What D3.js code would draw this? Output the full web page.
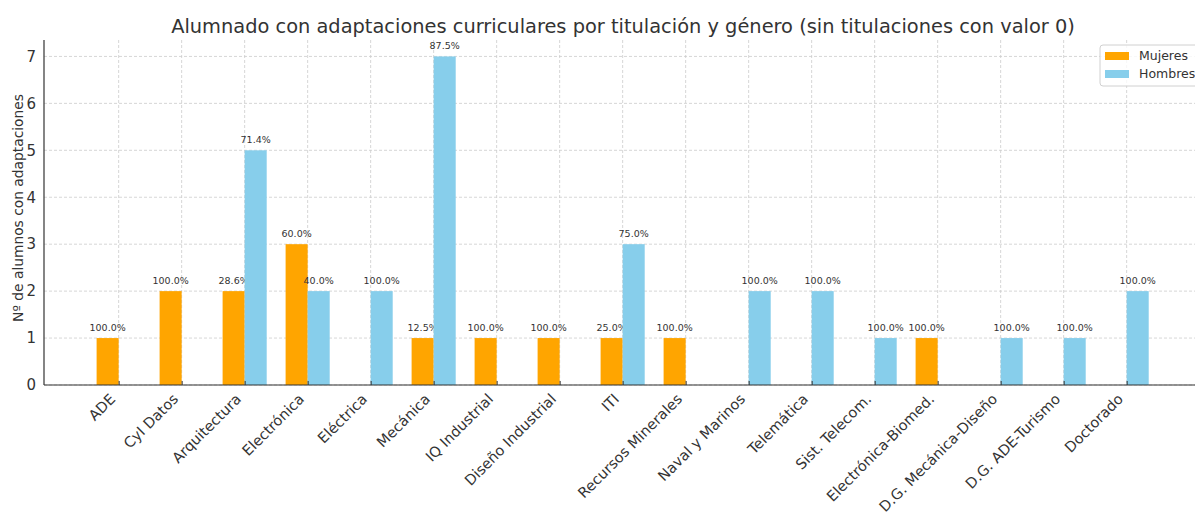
<!DOCTYPE html>
<html>
<head>
<meta charset="utf-8">
<script src="https://cdn.jsdelivr.net/npm/d3@7"></script>
<style>
  body { margin: 0; background: #fff; overflow: hidden; }
  text { font-family: "DejaVu Sans", sans-serif; fill: #333; }
</style>
</head>
<body>
<div id="chart"></div>
<script>
// data
var titulaciones = ["ADE", "CyI Datos", "Arquitectura", "Electrónica", "Eléctrica", "Mecánica",
  "IQ Industrial", "Diseño Industrial", "ITI", "Recursos Minerales", "Naval y Marinos",
  "Telemática", "Sist. Telecom.", "Electrónica-Biomed.", "D.G. Mecánica-Diseño",
  "D.G. ADE-Turismo", "Doctorado"];
var mujeres = [1, 2, 2, 3, 0, 1, 1, 1, 1, 1, 0, 0, 0, 1, 0, 0, 0];
var hombres = [0, 0, 5, 2, 2, 7, 0, 0, 3, 0, 2, 2, 1, 0, 1, 1, 2];
var yTicks = [0, 1, 2, 3, 4, 5, 6, 7];
var series = [
  {name: "Mujeres", values: mujeres, color: "#FFA500", offset: -0.35},
  {name: "Hombres", values: hombres, color: "#87CEEB", offset: 0}
];

var W = 1195, H = 513;
var barW = 0.35;
var plotLeft = 44, plotTop = 40, plotBottom = 385;

var svg = d3.select("#chart").append("svg")
  .attr("width", W).attr("height", H);

// matplotlib-like 5% margins around the bars
var xmin = -barW, xmax = titulaciones.length - 1 + barW;
var pad = (xmax - xmin) * 0.05;
var stepPx = 63;
var x = d3.scaleLinear()
  .domain([xmin - pad, xmax + pad])
  .range([plotLeft, plotLeft + (xmax - xmin + 2 * pad) * stepPx]);
var y = d3.scaleLinear()
  .domain([0, 7.35])
  .range([plotBottom, plotTop]);

// grid
var grid = svg.append("g");
grid.selectAll("line.h").data(yTicks).enter().append("line")
  .attr("x1", plotLeft).attr("x2", W)
  .attr("y1", function(d) { return y(d); }).attr("y2", function(d) { return y(d); })
  .attr("stroke", "#cccccc").attr("stroke-width", 0.8).attr("stroke-dasharray", "3,2");
grid.selectAll("line.v").data(titulaciones).enter().append("line")
  .attr("x1", function(d, i) { return x(i); }).attr("x2", function(d, i) { return x(i); })
  .attr("y1", plotTop).attr("y2", plotBottom)
  .attr("stroke", "#cccccc").attr("stroke-width", 0.8).attr("stroke-dasharray", "3,2");

// bars
series.forEach(function(s) {
  svg.append("g").selectAll("rect")
    .data(s.values)
    .enter()
    .append("rect")
      .attr("x", function(d, i) { return x(i + s.offset); })
      .attr("width", function(d, i) { return x(i + s.offset + barW) - x(i + s.offset); })
      .attr("y", function(d) { return y(d); })
      .attr("height", function(d) { return y(0) - y(d); })
      .attr("fill", s.color);

  // percentage of the titulación total, only for non-zero bars
  svg.append("g").selectAll("text")
    .data(s.values.map(function(d, i) { return {v: d, i: i}; }).filter(function(d) { return d.v > 0; }))
    .enter()
    .append("text")
      .attr("x", function(d) { return x(d.i + s.offset + barW / 2); })
      .attr("y", function(d) { return y(d.v) - 7; })
      .attr("text-anchor", "middle")
      .style("font-size", "9.5px")
      .text(function(d) {
        var tot = mujeres[d.i] + hombres[d.i];
        return (d.v / tot * 100).toFixed(1) + "%";
      });
});

// axes
var xAxis = svg.append("g")
  .attr("transform", "translate(0," + plotBottom + ")")
  .call(d3.axisBottom(x).tickValues(d3.range(titulaciones.length))
    .tickSize(-4).tickFormat(function(i) { return titulaciones[i]; }));
xAxis.select(".domain").attr("stroke", "#333").attr("stroke-width", 1.2)
  .attr("d", "M" + plotLeft + ",0H" + W);
xAxis.selectAll(".tick line").attr("stroke", "#333");
xAxis.selectAll(".tick text")
  .style("font-size", "14.5px")
  .attr("text-anchor", "end")
  .attr("x", null).attr("y", null).attr("dy", null)
  .attr("transform", "translate(-3,15) rotate(-45)");

var yAxis = svg.append("g")
  .attr("transform", "translate(" + plotLeft + ",0)")
  .call(d3.axisLeft(y).tickValues(yTicks).tickSize(0).tickPadding(8));
yAxis.select(".domain").attr("stroke", "#333").attr("stroke-width", 1.2)
  .attr("d", "M0," + plotTop + "V" + plotBottom);
yAxis.selectAll(".tick text").style("font-size", "15px");

// labels
svg.append("text")
  .attr("x", 623).attr("y", 33)
  .attr("text-anchor", "middle")
  .style("font-size", "19.4px")
  .text("Alumnado con adaptaciones curriculares por titulación y género (sin titulaciones con valor 0)");

svg.append("text")
  .attr("transform", "translate(23,208) rotate(-90)")
  .attr("text-anchor", "middle")
  .style("font-size", "13.8px")
  .text("Nº de alumnos con adaptaciones");

// legend
var legend = svg.append("g").attr("transform", "translate(1100,45)");
legend.append("rect")
  .attr("width", 110).attr("height", 41).attr("rx", 3)
  .attr("fill", "white").attr("fill-opacity", 0.8)
  .attr("stroke", "#d0d0d0");
series.forEach(function(s, k) {
  legend.append("rect")
    .attr("x", 5).attr("y", 7 + k * 18)
    .attr("width", 24).attr("height", 8)
    .attr("fill", s.color);
  legend.append("text")
    .attr("x", 39).attr("y", 15 + k * 18)
    .style("font-size", "12.5px")
    .text(s.name);
});
</script>
</body>
</html>
